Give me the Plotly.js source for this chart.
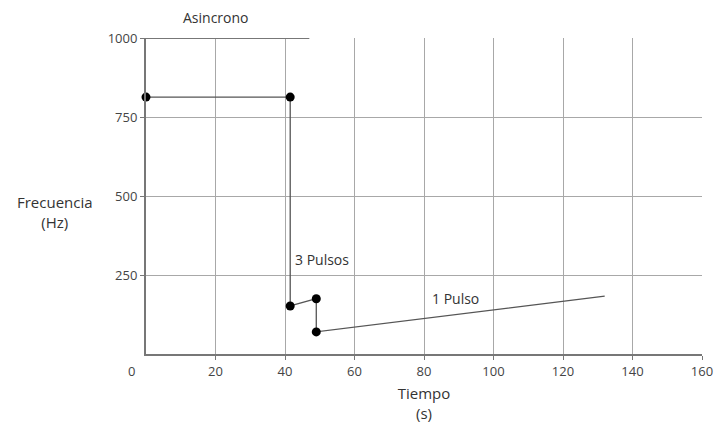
<!DOCTYPE html>
<html>
<head>
<meta charset="utf-8">
<script src="https://cdn.plot.ly/plotly-3.0.1.min.js"></script>
<style>html,body{margin:0;padding:0;background:#fff;}#chart{width:718px;height:430px;}</style>
</head>
<body>
<div id="chart"></div>
<script>
// Time (s) and frequency (Hz) of the switching profile
const tiempo = [0, 41.5, 41.5, 49, 49, 132];
const frecuencia = [813, 813, 152, 175, 70, 183];
const markerTiempo = [0, 41.5, 41.5, 49, 49];
const markerFrecuencia = [813, 813, 152, 175, 70];
// Asynchronous band at the top
const asincTiempo = [0, 47];
const asincFrecuencia = [1000, 1000];
const xTicks = [20, 40, 60, 80, 100, 120, 140, 160];
const yTicks = [250, 500, 750, 1000];
const labels = [
  {text: '3 Pulsos', x: 50.6, y: 300},
  {text: '1 Pulso', x: 89, y: 177}
];

const font = {family: '"Open Sans", "Noto Sans", sans-serif', color: '#333'};

const traces = [
  {x: asincTiempo, y: asincFrecuencia, mode: 'lines', line: {color: '#777', width: 2}, hoverinfo: 'skip', cliponaxis: false},
  {x: tiempo, y: frecuencia, mode: 'lines', line: {color: '#555', width: 1.3}},
  {x: markerTiempo, y: markerFrecuencia, mode: 'markers', marker: {color: '#000', size: 9}, cliponaxis: false}
];

const annotations = labels.map(l => ({
  text: l.text, x: l.x, y: l.y, xref: 'x', yref: 'y', showarrow: false,
  xanchor: 'center', yanchor: 'middle',
  font: Object.assign({}, font, {size: 14})
}));
annotations.push({text: 'Asincrono', xref: 'x', yref: 'paper', x: 20, y: 1, yshift: 21,
  xanchor: 'center', yanchor: 'middle', showarrow: false,
  font: Object.assign({}, font, {size: 14})});
annotations.push({text: '0', xref: 'paper', yref: 'paper', x: -0.026, y: 0, yshift: -17,
  xanchor: 'center', yanchor: 'middle',
  showarrow: false, font: Object.assign({}, font, {size: 13, color: '#444'})});
annotations.push({text: 'Frecuencia<br>(Hz)', xref: 'paper', yref: 'paper', x: -0.164, y: 0.45,
  xanchor: 'center', yanchor: 'middle',
  showarrow: false, font: Object.assign({}, font, {size: 15}), align: 'center'});

const layout = {
  width: 718, height: 430,
  margin: {l: 145.5, r: 16.3, t: 38, b: 76},
  paper_bgcolor: '#fff', plot_bgcolor: '#fff',
  showlegend: false,
  font: font,
  xaxis: {
    range: [0, 160], tickvals: xTicks, ticktext: xTicks.map(String),
    showgrid: true, gridcolor: '#a8a8a8', gridwidth: 1,
    showline: true, linecolor: '#777', linewidth: 2,
    ticks: 'outside', ticklen: 4, tickcolor: '#777', tickwidth: 1,
    tickfont: {size: 13, color: '#444'}, zeroline: false,
    title: {text: 'Tiempo<br>(s)', font: {size: 15, color: '#333'}, standoff: 10}
  },
  yaxis: {
    range: [0, 1000], tickvals: yTicks, ticktext: yTicks.map(String),
    showgrid: true, gridcolor: '#a8a8a8', gridwidth: 1,
    showline: true, linecolor: '#777', linewidth: 2,
    ticks: 'outside', ticklen: 4, tickcolor: '#777', tickwidth: 1,
    tickfont: {size: 13, color: '#444'}, zeroline: false
  },
  annotations: annotations
};

Plotly.newPlot('chart', traces, layout, {displayModeBar: false, staticPlot: true});
</script>
</body>
</html>
